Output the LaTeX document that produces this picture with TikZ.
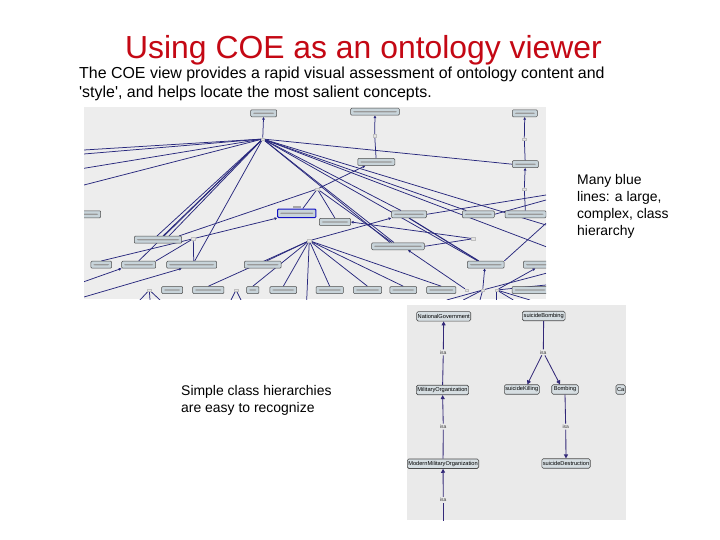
\documentclass[tikz,border=0pt]{standalone}
\usepackage{fontspec}
\setmainfont{Liberation Sans}
\usetikzlibrary{arrows.meta,calc}
\definecolor{titlered}{RGB}{196,8,20}
\definecolor{navy}{RGB}{40,40,125}
\definecolor{navytwo}{RGB}{50,40,120}
\definecolor{shotbg}{RGB}{237,237,237}
\definecolor{shotbgtwo}{RGB}{234,234,234}
\definecolor{boxfill}{RGB}{200,212,218}
\definecolor{boxfilltwo}{RGB}{214,222,226}
\pgfdeclarelayer{bg}
\pgfdeclarelayer{edges}
\pgfsetlayers{bg,edges,main}
\begin{document}
\begin{tikzpicture}[x=1bp,y=-1bp,
  sbox/.style={draw=black!70, fill=boxfill, rounded corners=1bp, minimum height=7bp, inner sep=0pt, line width=0.5bp,
    path picture={\fill[black!40] ([xshift=2.5bp,yshift=-0.6bp]path picture bounding box.west) rectangle ([xshift=-2.5bp,yshift=0.6bp]path picture bounding box.east);}},
  jn/.style={fill=gray!20, draw=gray!50, line width=0.2bp, minimum width=3.5bp, minimum height=2.5bp, inner sep=0pt},
  ln/.style={draw=navy, line width=0.75bp},
  ar/.style={ln, -{Triangle[length=2.6bp,width=2.6bp]}},
  cbox/.style={draw=black!70, fill=boxfilltwo, rounded corners=1.5bp, minimum height=9.5bp, inner sep=1pt, line width=0.6bp, font=\fontsize{5.7}{6}\selectfont},
  isa/.style={font=\fontsize{5}{5}\selectfont, inner sep=1pt, text=black!80},
  cl/.style={draw=navytwo, line width=0.85bp},
  ca/.style={cl, -{Triangle[length=4bp,width=4bp]}},
  txt/.style={anchor=base west, inner sep=0pt, font=\fontsize{14}{17}\selectfont},
  body/.style={anchor=base west, inner sep=0pt, font=\fontsize{16}{19}\selectfont},
  ttl/.style={anchor=base west, inner sep=0pt, font=\fontsize{32}{36}\selectfont}
]
\useasboundingbox (0,0) rectangle (720,540);
\begin{pgfonlayer}{bg}
\fill[white] (0,0) rectangle (720,540);
\fill[shotbg] (84,107) rectangle (546,299);
\fill[shotbgtwo] (407,305) rectangle (626,520);
\end{pgfonlayer}

% ---------- title and texts ----------
\node[ttl, text=titlered] (title) at (125,59) {Using COE as an ontology viewer};
\node[body] (body1) at (79,78.5) {The COE view provides a rapid visual assessment of ontology content and};
\node[body] (body2) at (79,97.5) {\textquotesingle style\textquotesingle, and helps locate the most salient concepts.};
\node[txt] (m1) at (577,185) {Many blue};
\node[txt] (m2) at (577,202) {lines: a large,};
\node[txt] (m3) at (577,219) {complex, class};
\node[txt] (m4) at (577,236) {hierarchy};
\node[txt] (s1) at (181,395) {Simple class hierarchies};
\node[txt] (s2) at (181,412) {are easy to recognize};

% ---------- screenshot 1 ----------
\begin{scope}
\clip (84,107) rectangle (546,299);
\node[sbox,minimum width=26bp] (n1) at (263.7,113.3) {};
\node[sbox,minimum width=48.6bp] (n2) at (375,111.7) {};
\node[sbox,minimum width=25bp] (n3) at (524.8,113.3) {};
\node[sbox,minimum width=37bp] (n4) at (376.3,162) {};
\node[sbox,minimum width=26bp] (n5) at (525.3,164.2) {};
\node[sbox,minimum width=24bp] (n6) at (88.7,214.3) {};
\node[sbox,minimum width=38.3bp,minimum height=8.5bp,draw=blue!55!navy,line width=1bp] (n7) at (296.8,213.3) {};
\node[fill=black!35,minimum width=8bp,minimum height=2.5bp,inner sep=0pt] (n7t) at (297,207.2) {};
\node[sbox,minimum width=31.4bp] (n8) at (335,222) {};
\node[sbox,minimum width=35bp] (n9) at (409,214.3) {};
\node[sbox,minimum width=32bp] (n10) at (478.3,214.3) {};
\node[sbox,minimum width=41bp] (n11) at (525.5,214.3) {};
\node[sbox,minimum width=47.4bp] (n12) at (158,239.7) {};
\node[sbox,minimum width=52.6bp] (n13) at (398,246.3) {};
\node[sbox,minimum width=20.7bp] (r1) at (101.3,264.7) {};
\node[sbox,minimum width=34bp] (r2) at (138.7,264.7) {};
\node[sbox,minimum width=50bp] (r3) at (191.7,264.7) {};
\node[sbox,minimum width=36.7bp] (r4) at (262.7,264.7) {};
\node[sbox,minimum width=36.7bp] (r5) at (485.7,264.7) {};
\node[sbox,minimum width=34bp] (r6) at (540.3,264.7) {};
\node[sbox,minimum width=21bp] (b1) at (172.2,290) {};
\node[sbox,minimum width=31.3bp] (b2) at (208.3,290) {};
\node[sbox,minimum width=12.3bp] (b3) at (252.8,290) {};
\node[sbox,minimum width=26.7bp] (b4) at (283.3,290) {};
\node[sbox,minimum width=27.3bp] (b5) at (329.7,290) {};
\node[sbox,minimum width=28.3bp] (b6) at (367.5,290) {};
\node[sbox,minimum width=26.7bp] (b7) at (403.3,290) {};
\node[sbox,minimum width=29.3bp] (b8) at (441.3,290) {};
\node[sbox,minimum width=36bp] (b9) at (530,290) {};
\node[jn] (A) at (262.7,139) {};
\node[jn] (B) at (374.7,135.7) {};
\node[jn] (C) at (524.3,139) {};
\node[jn] (D) at (317.3,189) {};
\node[jn] (E) at (524.3,189) {};
\node[jn] (F) at (193.3,238.7) {};
\node[jn] (G) at (309.3,240.7) {};
\node[jn] (H) at (473.3,238.7) {};
\node[jn] (I) at (466.7,290) {};
\node[jn] (J1) at (482.7,290) {};
\node[jn] (J2) at (496.7,290) {};
\node[jn] (K1) at (149.3,290) {};
\node[jn] (K2) at (236,290) {};
\end{scope}

\coordinate (L1) at (84,150);
\coordinate (L2) at (84,154);
\coordinate (L3) at (84,168.3);
\coordinate (L4) at (84,185);
\coordinate (L5) at (84,281.7);
\coordinate (L6) at (84,297);
\coordinate (R1) at (546,225);
\coordinate (R2) at (546,246.7);
\coordinate (R3) at (546,223.3);
\coordinate (R4) at (546,195);
\coordinate (R5) at (546,200);
\coordinate (R6) at (546,273.3);
\coordinate (R7) at (546,285);
\coordinate (Z1) at (306.7,300);
\coordinate (Z2) at (446.7,300);
\coordinate (Z3) at (463.3,300);
\coordinate (Z4) at (480,300);
\coordinate (Z5) at (496.7,300);
\coordinate (Z6) at (513.3,300);
\coordinate (Z7) at (530,300);
\coordinate (Z8) at (140,300);
\coordinate (Z9) at (150,300);
\coordinate (Z10) at (160,300);
\coordinate (Z11) at (231,300);
\coordinate (Z12) at (241,300);

\begin{pgfonlayer}{edges}
\begin{scope}
\clip (84,107) rectangle (546,299);
\draw[ar] (A) -- (n1);
\draw[ln] (n4) -- (B); \draw[ar] (B) -- (n2);
\draw[ln] (n5) -- (C); \draw[ar] (C) -- (n3);
\draw[ln] (n11) -- (E); \draw[ar] (E) -- (n5);
\draw[ln] (A) -- (n5.west);
\draw[ln] (A) -- (L1); \draw[ln] (A) -- (L2); \draw[ln] (A) -- (L3); \draw[ln] (A) -- (L4);
\draw[ln] (A) -- ($(n12.north)+(-1,0)$);
\draw[ln] (A) -- ($(n12.north)+(5,0)$);
\draw[ln] (A) -- ($(n12.north)+(11,0)$);
\draw[ln] (A) -- (r2.north);
\draw[ln] (A) -- ($(r3.north)+(3,0)$);
\draw[ln] (A) -- ($(n13.north)+(-8,0)$);
\draw[ln] (A) -- ($(n13.north)+(-4,0)$);
\draw[ln] (A) -- ($(n9.north)+(-8,0)$);
\draw[ln] (A) -- ($(n10.north)+(-12,0)$);
\draw[ln] (A) -- (R1); \draw[ln] (A) -- (R2);
\draw[ln] (A) -- ($(r5.north)+(-8,0)$);
\draw[ln] (D) -- ($(n7.north)+(6,0)$);
\draw[ln] (D) -- (n8.north);
\draw[ar] (D) -- ($(n4.south)+(-11,0)$);
\draw[ln] (D) -- ($(n12.north east)+(-3,0)$);
\draw[ln] (D) -- ($(n13.north)+(-6,0)$);
\draw[ar] (F) -- (n7.south west);
\draw[ln] (F) -- (r1.north);
\draw[ln] (F) -- (r2.north east);
\draw[ln] (F) -- ($(r3.north)+(2,0)$);
\draw[ar] (L5) -- (r2.south west);
\draw[ar] (L6) -- ($(r3.south)+(-10,0)$);
\draw[ar] (G) -- (n9.south west);
\draw[ln] (G) -- ($(r4.north)+(4,0)$);
\draw[ln] (G) -- (b2.north);
\draw[ln] (G) -- (b3.north);
\draw[ln] (G) -- (b4.north);
\draw[ln] (G) -- (Z1);
\draw[ln] (G) -- (b5.north);
\draw[ln] (G) -- (b6.north);
\draw[ln] (G) -- (b7.north);
\draw[ln] (G) -- (b8.north);
\draw[ar] (H) -- (n8.east);
\draw[ln] (H) -- (n13.east);
\draw[ln, line width=1.1bp] (n9.south) -- ($(r5.north)+(-7,0)$);
\draw[ar] (I) -- ($(n13.south)+(10,0)$);
\draw[ar] (J1) -- ($(r5.south)+(-1,0)$);
\draw[ar] (J2) -- ($(r6.south)+(-5,0)$);
\draw[ln] (r5.north east) -- (R3);
\draw[ln] (n9.east) -- (R4);
\draw[ln] (n10.east) -- (R5);
\draw[ln] (J1) -- (R6);
\draw[ln] (J2) -- (R7);
\foreach \z in {Z2,Z3,Z4} {\draw[ln] (J1) -- (\z);}
\foreach \z in {Z5,Z6,Z7} {\draw[ln] (J2) -- (\z);}
\foreach \z in {Z8,Z9,Z10} {\draw[ln] (K1) -- (\z);}
\foreach \z in {Z11,Z12} {\draw[ln] (K2) -- (\z);}
\end{scope}
\end{pgfonlayer}

% ---------- screenshot 2 ----------
\begin{scope}
\clip (407,305) rectangle (626,520);
\node[cbox,minimum width=54bp] (ng) at (443.7,316.3) {NationalGovernment};
\node[cbox,minimum width=51.6bp] (mo) at (442.5,390) {MilitaryOrganization};
\node[cbox,minimum width=69.4bp] (mmo) at (443,463.7) {ModernMilitaryOrganization};
\node[cbox,minimum width=42.7bp] (sb) at (543.7,316) {suicideBombing};
\node[cbox,minimum width=35bp] (sk) at (521.8,389.5) {suicideKilling};
\node[cbox,minimum width=26.6bp] (bo) at (565,389.5) {Bombing};
\node[cbox,minimum width=46.6bp] (sd) at (566,463.5) {suicideDestruction};
\node[cbox,anchor=west] (ca) at (615.7,389.5) {Ca\hspace{14bp}};
\node[isa] (i1) at (443.3,352.3) {isa};
\node[isa] (i2) at (443.3,426.7) {isa};
\node[isa] (i3) at (443.3,500) {isa};
\node[isa] (i4) at (543.3,352.3) {isa};
\node[isa] (i5) at (565.7,426.7) {isa};
\coordinate (bot) at (443.3,522);
\draw[ca] (i1) -- (ng);
\draw[cl] (mo) -- (i1);
\draw[ca] (i2) -- (mo);
\draw[cl] (mmo) -- (i2);
\draw[ca] (i3) -- (mmo);
\draw[cl] (bot) -- (i3);
\draw[cl] (sb) -- (i4);
\draw[ca] (i4) -- ($(sk.north)+(5.5,0)$);
\draw[ca] (i4) -- ($(bo.north)+(-5,0)$);
\draw[cl] (bo.south) -- (i5);
\draw[ca] (i5) -- (sd.north);
\end{scope}
\end{tikzpicture}
\end{document}
